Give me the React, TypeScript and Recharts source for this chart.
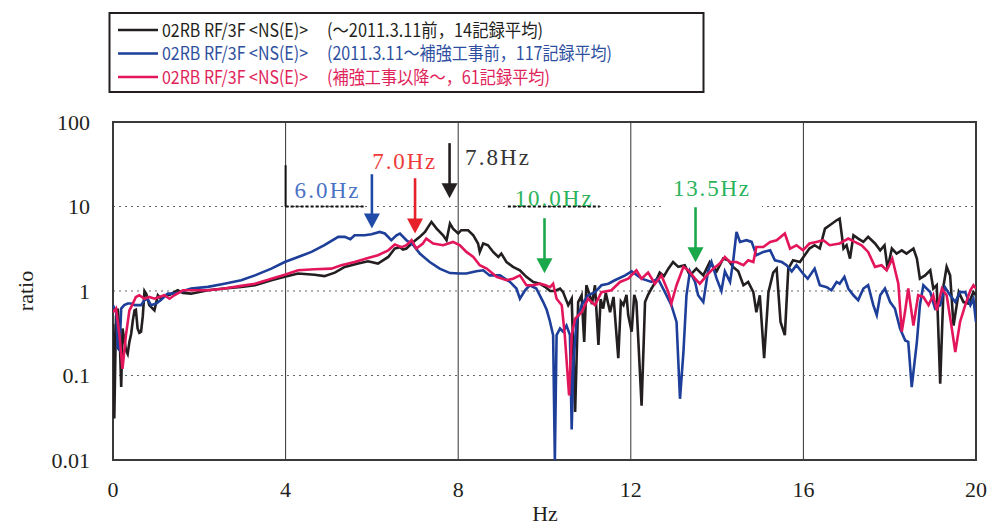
import React from 'react';
import {
  LineChart, Line, XAxis, YAxis, CartesianGrid,
  ReferenceLine, ReferenceDot, ReferenceArea
} from 'recharts';

// axis ticks
const freqTicks = [0, 4, 8, 12, 16, 20];
const ratioTicks = [0.01, 0.1, 1, 10, 100];

// spectral ratio RF/3F, [Hz, ratio]
const beforeQuake: [number, number][] = [
  [0, 0.41], [0.03, 0.031], [0.07, 0.5], [0.11, 0.62], [0.15, 0.35], [0.19, 0.073], [0.22, 0.36], [0.26, 0.27],
  [0.3, 0.2], [0.34, 0.18], [0.38, 0.25], [0.42, 0.31], [0.46, 0.45], [0.5, 0.59], [0.53, 0.6], [0.57, 0.36],
  [0.61, 0.32], [0.65, 0.33], [0.69, 0.5], [0.73, 1.0], [0.77, 0.93], [0.84, 0.68], [0.92, 0.62], [0.96, 0.59],
  [1.04, 0.89], [1.11, 0.81], [1.19, 0.89], [1.31, 0.9], [1.42, 0.97], [1.5, 1.02], [1.62, 0.95], [1.81, 0.93],
  [2.2, 1.02], [2.58, 1.07], [2.97, 1.12], [3.29, 1.17], [3.67, 1.34], [3.98, 1.47], [4.29, 1.61], [4.67, 1.56],
  [4.9, 1.5], [5.14, 1.65], [5.37, 1.93], [5.68, 2.11], [5.91, 2.25], [6.14, 2.11], [6.38, 2.53], [6.53, 3.18],
  [6.65, 3.3], [6.72, 3.1], [6.8, 3.18], [6.96, 3.81], [7.11, 4.37], [7.23, 5.0], [7.38, 6.57], [7.5, 5.48],
  [7.65, 4.57], [7.73, 3.99], [7.81, 6.28], [7.88, 5.48], [8.0, 4.79], [8.07, 5.24], [8.23, 5.24], [8.35, 4.57],
  [8.46, 3.65], [8.5, 2.9], [8.58, 3.65], [8.69, 3.48], [8.81, 2.9], [8.93, 2.53], [9.0, 2.77], [9.12, 2.2],
  [9.27, 1.93], [9.43, 1.76], [9.58, 1.47], [9.74, 1.28], [9.89, 1.22], [10.01, 1.12], [10.13, 1.0], [10.24, 1.0],
  [10.36, 1.07], [10.43, 0.97], [10.55, 0.68], [10.63, 0.81], [10.71, 0.037], [10.78, 0.74], [10.86, 0.89], [10.92, 0.25],
  [10.97, 1.17], [11.05, 0.89], [11.1, 0.7], [11.17, 1.17], [11.25, 0.23], [11.3, 0.8], [11.36, 0.62], [11.42, 0.95],
  [11.52, 0.56], [11.6, 0.85], [11.71, 0.16], [11.77, 0.75], [11.83, 0.68], [11.9, 0.9], [11.94, 0.52], [12.02, 0.33],
  [12.08, 0.9], [12.13, 0.74], [12.25, 0.044], [12.33, 0.74], [12.4, 0.9], [12.48, 1.07], [12.58, 1.3], [12.67, 1.65],
  [12.77, 1.5], [12.87, 1.84], [12.98, 2.2], [13.1, 1.93], [13.25, 2.02], [13.37, 1.53], [13.52, 1.84], [13.68, 1.53],
  [13.83, 2.2], [13.99, 1.71], [14.14, 2.42], [14.26, 2.31], [14.37, 1.93], [14.49, 1.71], [14.61, 1.17], [14.72, 1.28],
  [14.84, 0.97], [14.91, 0.56], [14.99, 0.89], [15.09, 0.16], [15.19, 0.97], [15.3, 1.65], [15.38, 1.84], [15.47, 0.43],
  [15.57, 0.3], [15.65, 1.84], [15.76, 2.31], [15.92, 2.2], [16.03, 2.65], [16.14, 3.18], [16.26, 3.48], [16.38, 3.18],
  [16.5, 5.48], [16.61, 6.0], [16.77, 6.88], [16.84, 7.2], [16.87, 5.5], [16.93, 3.18], [17.0, 3.48], [17.08, 2.42],
  [17.16, 4.57], [17.27, 4.17], [17.39, 3.81], [17.5, 4.37], [17.66, 3.65], [17.78, 3.03], [17.88, 3.48], [17.95, 1.84],
  [18.05, 3.18], [18.16, 2.77], [18.28, 3.03], [18.39, 2.77], [18.55, 3.18], [18.63, 2.42], [18.7, 1.4], [18.82, 1.53],
  [18.94, 1.76], [19.01, 1.07], [19.09, 1.17], [19.17, 0.08], [19.25, 1.17], [19.32, 1.93], [19.4, 1.53], [19.48, 0.39],
  [19.6, 0.97], [19.71, 0.74], [19.83, 0.71], [19.94, 0.97], [20.0, 0.89],
];

const afterQuake: [number, number][] = [
  [0, 0.68], [0.03, 0.62], [0.08, 0.55], [0.11, 0.21], [0.15, 0.2], [0.19, 0.62], [0.26, 0.68], [0.34, 0.71],
  [0.42, 0.71], [0.5, 0.68], [0.65, 0.68], [0.73, 0.78], [0.8, 0.81], [0.88, 0.68], [1.0, 0.71], [1.11, 0.78],
  [1.27, 0.93], [1.42, 0.93], [1.81, 1.07], [2.2, 1.12], [2.58, 1.22], [2.97, 1.34], [3.29, 1.53], [3.67, 1.84],
  [3.98, 2.2], [4.29, 2.53], [4.6, 2.9], [4.9, 3.48], [5.22, 4.37], [5.37, 4.37], [5.5, 4.1], [5.6, 4.57],
  [5.83, 4.57], [5.99, 4.7], [6.18, 5.0], [6.3, 4.79], [6.45, 4.0], [6.57, 4.57], [6.65, 4.79], [6.8, 3.99],
  [6.96, 3.48], [7.11, 2.77], [7.34, 2.2], [7.57, 1.84], [7.81, 1.63], [8.04, 1.61], [8.19, 1.61], [8.42, 1.71],
  [8.58, 1.76], [8.73, 1.53], [8.97, 1.53], [9.2, 1.28], [9.35, 1.07], [9.43, 0.81], [9.55, 1.02], [9.66, 1.17],
  [9.81, 1.07], [9.97, 0.74], [10.05, 0.6], [10.12, 0.45], [10.2, 0.3], [10.24, 0.01], [10.28, 0.3], [10.36, 0.36],
  [10.43, 0.33], [10.51, 0.39], [10.59, 0.3], [10.63, 0.023], [10.67, 0.14], [10.74, 0.43], [10.86, 0.68], [11.01, 0.89],
  [11.17, 0.97], [11.32, 1.17], [11.48, 1.22], [11.63, 1.34], [11.87, 1.53], [12.02, 1.71], [12.25, 1.4], [12.48, 1.28],
  [12.63, 1.4], [12.79, 0.97], [12.94, 0.68], [13.06, 0.43], [13.14, 0.053], [13.22, 0.19], [13.29, 0.89], [13.37, 1.71],
  [13.49, 1.28], [13.56, 0.89], [13.68, 0.74], [13.79, 1.71], [13.87, 2.2], [13.99, 1.4], [14.1, 1.0], [14.18, 1.71],
  [14.3, 1.28], [14.37, 2.2], [14.45, 5.0], [14.53, 3.81], [14.68, 3.99], [14.8, 3.81], [14.91, 2.65], [15.07, 2.9],
  [15.23, 3.03], [15.34, 2.31], [15.5, 2.2], [15.61, 2.02], [15.73, 1.71], [15.84, 2.02], [15.99, 1.61], [16.1, 1.4],
  [16.26, 1.84], [16.38, 1.17], [16.54, 1.11], [16.65, 1.02], [16.77, 1.28], [16.84, 1.22], [16.95, 1.47], [17.04, 1.07],
  [17.16, 0.89], [17.27, 0.78], [17.39, 1.07], [17.5, 1.17], [17.62, 0.68], [17.7, 0.52], [17.78, 0.89], [17.89, 1.07],
  [18.01, 0.74], [18.12, 0.62], [18.24, 0.36], [18.36, 0.26], [18.43, 0.25], [18.51, 0.073], [18.63, 0.25], [18.7, 0.68],
  [18.78, 1.17], [18.94, 0.97], [19.05, 0.62], [19.17, 0.68], [19.28, 1.11], [19.4, 0.89], [19.52, 0.74], [19.63, 0.97],
  [19.75, 0.97], [19.87, 0.68], [19.94, 0.81], [20.0, 0.43],
];

const afterRetrofit: [number, number][] = [
  [0, 0.56], [0.07, 0.62], [0.15, 0.3], [0.22, 0.12], [0.3, 0.3], [0.38, 0.59], [0.46, 0.71], [0.53, 0.85],
  [0.61, 0.89], [0.73, 0.81], [0.84, 0.85], [0.96, 0.81], [1.07, 0.85], [1.19, 0.89], [1.31, 0.81], [1.42, 0.89],
  [1.62, 1.02], [1.81, 1.02], [2.2, 1.02], [2.58, 1.07], [2.97, 1.15], [3.29, 1.22], [3.67, 1.4], [3.98, 1.56],
  [4.29, 1.76], [4.67, 1.81], [5.06, 1.84], [5.29, 2.02], [5.6, 2.2], [5.91, 2.46], [6.14, 2.65], [6.38, 3.03],
  [6.53, 3.54], [6.69, 3.3], [6.8, 3.48], [6.92, 3.99], [7.03, 3.18], [7.18, 3.65], [7.26, 4.17], [7.42, 3.65],
  [7.65, 3.48], [7.88, 3.81], [8.04, 3.48], [8.19, 2.9], [8.35, 2.53], [8.5, 2.02], [8.66, 1.84], [8.89, 1.47],
  [9.12, 1.34], [9.27, 1.4], [9.43, 1.53], [9.58, 1.17], [9.74, 1.17], [9.89, 1.22], [10.01, 1.18], [10.13, 1.11],
  [10.2, 1.22], [10.28, 0.81], [10.4, 0.68], [10.47, 0.3], [10.57, 0.058], [10.63, 0.3], [10.71, 0.47], [10.86, 0.56],
  [11.01, 0.81], [11.17, 0.68], [11.32, 0.97], [11.55, 1.02], [11.75, 1.28], [11.94, 1.4], [12.13, 1.76], [12.25, 1.4],
  [12.4, 1.65], [12.56, 1.22], [12.71, 1.53], [12.87, 0.97], [12.94, 0.71], [13.06, 1.17], [13.22, 1.93], [13.33, 1.76],
  [13.49, 1.4], [13.6, 1.22], [13.76, 1.53], [13.91, 1.84], [14.06, 2.11], [14.18, 2.53], [14.3, 2.2], [14.45, 2.2],
  [14.61, 2.02], [14.72, 2.31], [14.84, 2.2], [14.91, 3.32], [15.07, 3.32], [15.23, 3.81], [15.38, 3.99], [15.57, 4.79],
  [15.69, 3.18], [15.84, 3.48], [15.99, 3.03], [16.14, 3.65], [16.3, 3.81], [16.46, 3.99], [16.61, 3.48], [16.84, 3.65],
  [17.04, 4.17], [17.19, 3.81], [17.35, 3.48], [17.5, 2.9], [17.66, 1.93], [17.81, 2.02], [17.93, 1.76], [18.06, 2.42],
  [18.2, 1.22], [18.28, 0.33], [18.36, 0.59], [18.43, 1.07], [18.55, 0.39], [18.66, 0.89], [18.78, 0.85], [18.9, 0.68],
  [19.01, 0.89], [19.09, 0.59], [19.21, 1.07], [19.32, 0.89], [19.44, 0.36], [19.52, 0.19], [19.63, 0.43], [19.75, 0.68],
  [19.87, 1.02], [19.94, 1.17], [20.0, 1.07],
];

// legend: point name + record group
const seriesNames = ['02RB RF/3F <NS(E)>', '02RB RF/3F <NS(E)>', '02RB RF/3F <NS(E)>'];
const seriesPeriods = [
  '(～2011.3.11前，14記録平均)',
  '(2011.3.11～補強工事前，117記録平均)',
  '(補強工事以降～，61記録平均)',
];

// natural frequencies picked off each curve
const peakFreqs = [6.0, 7.0, 7.8, 10.0, 13.5];
const peakLabels = ['6.0Hz', '7.0Hz', '7.8Hz', '10.0Hz', '13.5Hz'];

const lineColors = ['#231f20', '#1d3f9a', '#e3165b'];
const legendTextColors = ['#231f20', '#2e4fa0', '#e0245a'];
const periodWidths = [216, 285, 223];

// arrow shaft [top, tip] in ratio units, label anchor and look
const peakArrows = [
  { top: 24.1, tip: 5.5, color: '#1f4aa8' },
  { top: 21.6, tip: 4.8, color: '#e62129' },
  { top: 56.2, tip: 12.5, color: '#231f20' },
  { top: 7.27, tip: 1.62, color: '#1aa84a' },
  { top: 9.8, tip: 2.19, color: '#1aa84a' },
];
const peakText = [
  { hz: 4.95, ratio: 15.5, width: 64, color: '#4a72c4' },
  { hz: 6.74, ratio: 34.5, width: 63, color: '#ee3a3a' },
  { hz: 8.9, ratio: 37.5, width: 64, color: '#333333' },
  { hz: 10.2, ratio: 12.6, width: 77, color: '#2bb35a' },
  { hz: 13.86, ratio: 16.5, width: 76, color: '#2bb35a' },
];

const toRows = (pts: [number, number][]) => pts.map(([hz, ratio]) => ({ hz, ratio }));

const serif = '"Liberation Serif", "Times New Roman", serif';
const gothic = '"Noto Sans CJK JP", sans-serif';

const arrowShape = (color: string) => (p: any) => {
  const { x1, y1, x2, y2 } = p;
  if (x1 == null || y1 == null) return <g />;
  const head = 15;
  const half = 8;
  return (
    <g>
      <line x1={x1} y1={y1} x2={x2} y2={y2 - head + 1} stroke={color} strokeWidth={2.6} />
      <polygon points={`${x2 - half},${y2 - head} ${x2 + half},${y2 - head} ${x2},${y2}`} fill={color} />
    </g>
  );
};

const textShape = (label: string, width: number, color: string) => (p: any) => (
  <text
    x={p.cx}
    y={p.cy}
    textAnchor="middle"
    dominantBaseline="central"
    fontFamily={serif}
    fontSize={23}
    fill={color}
    textLength={width}
    lengthAdjust="spacing"
  >
    {label}
  </text>
);

const LegendBox = () => (
  <svg width={989} height={100} style={{ position: 'absolute', left: 0, top: 0 }}>
    <rect x={109.5} y={13} width={594} height={79} fill="#fff" stroke="#231f20" strokeWidth={2} />
    {seriesNames.map((name, i) => {
      const cy = 30 + i * 23.5;
      return (
        <g key={i}>
          <line x1={118} x2={158} y1={cy} y2={cy} stroke={lineColors[i]} strokeWidth={2.5} />
          <text
            x={162}
            y={cy + 6.5}
            fontFamily={gothic}
            fontSize={18}
            fill={legendTextColors[i]}
            textLength={146}
            lengthAdjust="spacingAndGlyphs"
          >
            {name}
          </text>
          <text
            x={327}
            y={cy + 6.5}
            fontFamily={gothic}
            fontSize={18}
            fill={legendTextColors[i]}
            textLength={periodWidths[i]}
            lengthAdjust="spacingAndGlyphs"
          >
            {seriesPeriods[i]}
          </text>
        </g>
      );
    })}
  </svg>
);

export default function App() {
  const series = [beforeQuake, afterQuake, afterRetrofit];
  return (
    <div style={{ position: 'absolute', left: 0, top: 0, width: 989, height: 528, background: '#fff' }}>
      <LineChart width={989} height={528} margin={{ top: 122, right: 13, bottom: 0, left: 0 }}>
        <CartesianGrid horizontal={false} vertical stroke="#333" strokeWidth={1} />
        <CartesianGrid horizontal vertical={false} stroke="#666" strokeDasharray="2 4" strokeWidth={1.2} />
        <XAxis
          type="number"
          dataKey="hz"
          domain={[0, 20]}
          ticks={freqTicks}
          allowDataOverflow
          height={68}
          tickLine={false}
          axisLine={false}
          tickSize={0}
          tickMargin={21}
          tick={{ fill: '#231f20', fontSize: 22, fontFamily: serif }}
          label={{
            content: () => (
              <text x={545} y={513} textAnchor="middle" dominantBaseline="central"
                fontFamily={serif} fontSize={22} fill="#231f20">
                Hz
              </text>
            ),
          }}
        />
        <YAxis
          type="number"
          scale="log"
          domain={[0.01, 100]}
          ticks={ratioTicks}
          allowDataOverflow
          width={113}
          tickLine={false}
          axisLine={false}
          tickSize={0}
          tickMargin={23}
          tick={{ fill: '#231f20', fontSize: 22, fontFamily: serif }}
          label={{
            content: () => (
              <text
                transform="translate(25,291) rotate(-90)"
                textAnchor="middle"
                dominantBaseline="central"
                fontFamily={serif}
                fontSize={22}
                fill="#231f20"
              >
                ratio
              </text>
            ),
          }}
        />
        {/* label boxes over the 10 line */}
        <ReferenceLine segment={[{ x: 12.74, y: 10 }, { x: 15.04, y: 10 }]} stroke="#fff" strokeWidth={4} />
        <ReferenceLine segment={[{ x: 4, y: 10 }, { x: 5.85, y: 10 }]} stroke="#111" strokeDasharray="3 2" strokeWidth={2} />
        <ReferenceLine segment={[{ x: 9.15, y: 10 }, { x: 11.28, y: 10 }]} stroke="#111" strokeDasharray="3 2" strokeWidth={2} />
        <ReferenceLine segment={[{ x: 4, y: 10 }, { x: 4, y: 30.8 }]} stroke="#111" strokeWidth={2} />
        <ReferenceArea x1={0} x2={20} y1={0.01} y2={100} fill="none" stroke="#3a3a3a" strokeWidth={2} />
        {series.map((pts, i) => (
          <Line
            key={i}
            data={toRows(pts)}
            dataKey="ratio"
            type="linear"
            stroke={lineColors[i]}
            strokeWidth={2.6}
            dot={false}
            isAnimationActive={false}
          />
        ))}
        {peakFreqs.map((hz, i) => (
          <ReferenceLine
            key={`a${i}`}
            segment={[{ x: hz, y: peakArrows[i].top }, { x: hz, y: peakArrows[i].tip }]}
            stroke={peakArrows[i].color}
            shape={arrowShape(peakArrows[i].color)}
          />
        ))}
        {peakLabels.map((label, i) => (
          <ReferenceDot
            key={`t${i}`}
            x={peakText[i].hz}
            y={peakText[i].ratio}
            r={1}
            shape={textShape(label, peakText[i].width, peakText[i].color)}
          />
        ))}
      </LineChart>
      <LegendBox />
    </div>
  );
}
